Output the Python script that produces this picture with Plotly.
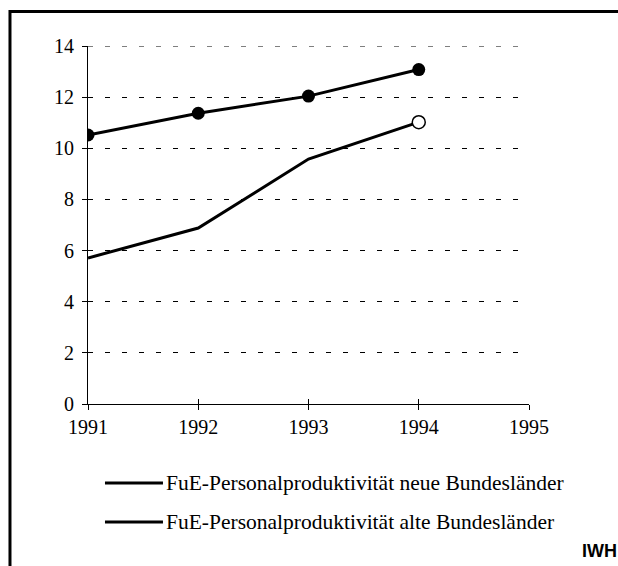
import plotly.graph_objects as go

years = [1991, 1992, 1993, 1994]
neue = [10.52, 11.37, 12.04, 13.08]
alte = [5.71, 6.88, 9.58, 11.02]
legend_labels = ["FuE-Personalproduktivität neue Bundesländer",
                 "FuE-Personalproduktivität alte Bundesländer"]
x_ticks = [1991, 1992, 1993, 1994, 1995]
y_ticks = [0, 2, 4, 6, 8, 10, 12, 14]
source_label = "IWH"

serif = "Liberation Serif"
tick_font = dict(family=serif, size=20, color="black")

fig = go.Figure()
fig.add_trace(go.Scatter(x=years, y=neue, mode="lines+markers",
                         line=dict(color="black", width=3),
                         marker=dict(size=13, color="black"),
                         showlegend=False, hoverinfo="skip"))
fig.add_trace(go.Scatter(x=years, y=alte, mode="lines",
                         line=dict(color="black", width=3),
                         showlegend=False, hoverinfo="skip"))
fig.add_trace(go.Scatter(x=[years[-1]], y=[alte[-1]], mode="markers",
                         marker=dict(size=13, color="white",
                                     line=dict(color="black", width=1.5)),
                         showlegend=False, hoverinfo="skip"))
# invisible trace so the overlay axis renders its inner tick marks
fig.add_trace(go.Scatter(x=[x_ticks[0]], y=[0], xaxis="x2", mode="markers",
                         marker=dict(size=1, opacity=0), showlegend=False,
                         hoverinfo="skip"))

# top gridline (plotly omits the gridline at the range edge)
fig.add_shape(type="line", xref="paper", yref="y", x0=0, x1=1,
              y0=y_ticks[-1], y1=y_ticks[-1],
              line=dict(color="black", width=1, dash="5px,12px"), layer="below")

# manual legend
rows_y = [-0.2207, -0.3296]
for lab, yy in zip(legend_labels, rows_y):
    fig.add_shape(type="line", xref="paper", yref="paper",
                  x0=0.0385, x1=0.170, y0=yy, y1=yy,
                  line=dict(color="black", width=3))
    fig.add_annotation(xref="paper", yref="paper", x=0.172, y=yy,
                       text=lab, showarrow=False, xanchor="left",
                       yanchor="middle",
                       font=dict(family=serif, size=21.5, color="black"))

fig.add_annotation(xref="paper", yref="paper", x=1.204, y=-0.41,
                   text="<b>" + source_label + "</b>", showarrow=False,
                   xanchor="right", yanchor="middle",
                   font=dict(family="Liberation Sans", size=18, color="black"))

# border
fig.add_shape(type="rect", xref="paper", yref="paper",
              x0=-0.1769, x1=1.25, y0=-0.5, y1=1.0964,
              line=dict(color="black", width=3), layer="below")

fig.update_layout(
    width=618, height=566,
    margin=dict(l=88, r=89, t=46, b=162),
    paper_bgcolor="white", plot_bgcolor="white",
    font=dict(family=serif, size=20, color="black"),
    xaxis=dict(range=[1991, 1995], tickvals=x_ticks, ticktext=[str(v) for v in x_ticks],
               tickfont=tick_font,
               showgrid=False, zeroline=False, showline=True,
               linecolor="black", linewidth=1, ticks="outside", ticklen=5,
               tickcolor="black", tickwidth=1),
    xaxis2=dict(range=[1991, 1995], overlaying="x", tickvals=x_ticks,
                showticklabels=False, showgrid=False, zeroline=False,
                showline=False, ticks="inside", ticklen=5, tickcolor="black",
                tickwidth=1, side="bottom", anchor="y"),
    yaxis=dict(range=[0, 14], tickvals=y_ticks, showgrid=True, tickfont=tick_font,
               gridcolor="black", griddash="5px,12px", gridwidth=1,
               zeroline=False, showline=True, linecolor="black",
               linewidth=1, ticks="outside", ticklen=5, tickcolor="black",
               tickwidth=1, ticklabelstandoff=4),
)

fig.write_html("out.html", config={"displayModeBar": False},
               post_script="document.body.style.margin='0';document.body.style.overflow='hidden';")
